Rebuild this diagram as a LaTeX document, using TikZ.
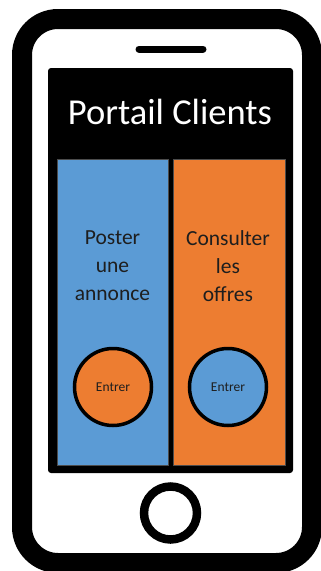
\documentclass[tikz,border=0pt]{standalone}
\usepackage{fontspec}
\setmainfont{Carlito}
\definecolor{panelblue}{HTML}{5B9BD5}
\definecolor{panelorange}{HTML}{ED7D31}
\definecolor{inktext}{HTML}{1E1E1E}
\begin{document}
\begin{tikzpicture}[x=1pt,y=-1pt,
  panel/.style={draw=black!70,line width=0.6pt},
  paneltext/.style={text=inktext,font=\fontsize{21.5}{28}\selectfont,align=center},
  enterbtn/.style={circle,draw=black,line width=3.5pt,minimum size=77pt,inner sep=0pt,
    font=\fontsize{13.5}{16}\selectfont,text=inktext}]
\useasboundingbox (0,0) rectangle (321,571);
\fill[white] (0,0) rectangle (321,571);
% phone body
\draw[line width=20pt,rounded corners=36pt] (22,19) rectangle (312,563);
% speaker slot
\draw[line width=7pt,line cap=round] (139,49) -- (203,49);
% screen
\fill[black,rounded corners=3pt] (48,68) rectangle (293,473);
\node[text=white,font=\fontsize{36.5}{42}\selectfont] (title) at (170,112) {Portail Clients};
% two panels
\filldraw[panel,fill=panelblue] (57,159) rectangle (168,465);
\filldraw[panel,fill=panelorange] (173,159) rectangle (285,465);
\node[paneltext] (post) at (112.5,266) {Poster\\une\\annonce};
\node[paneltext] (browse) at (228,266) {Consulter\\les\\offres};
% buttons
\node[enterbtn,fill=panelorange] (enterA) at (113,387) {Entrer};
\node[enterbtn,fill=panelblue] (enterB) at (228,387) {Entrer};
% home button
\draw[line width=8.5pt] (170.5,513) circle[radius=26.5pt];
\end{tikzpicture}
\end{document}
